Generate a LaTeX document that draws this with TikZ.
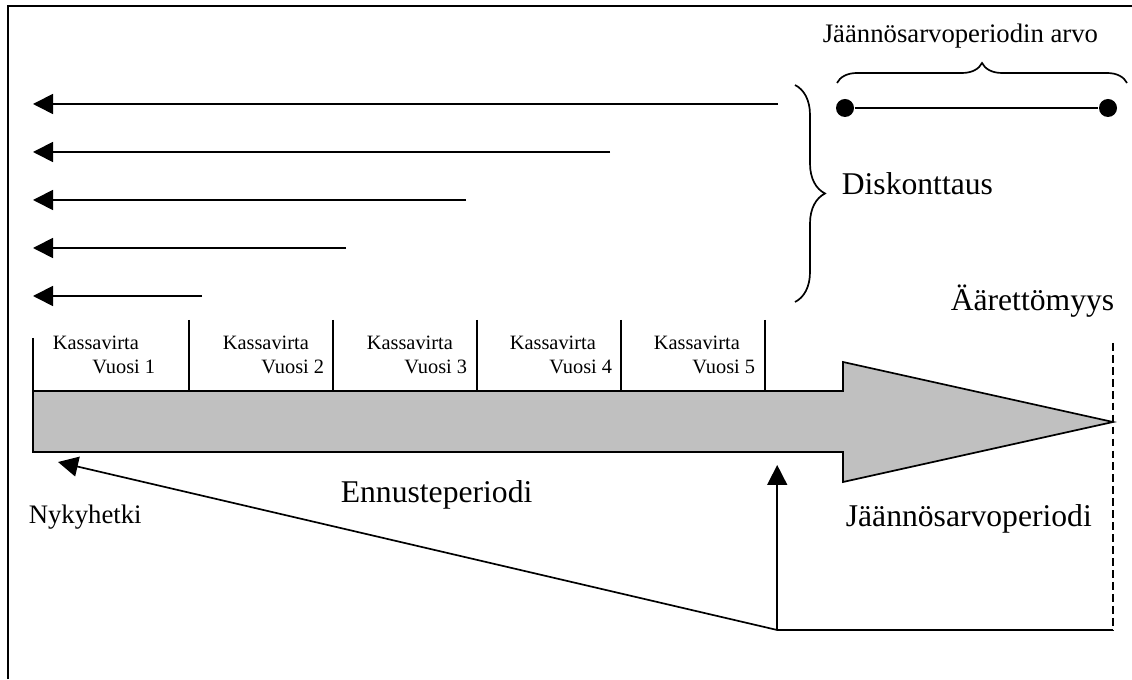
\documentclass[tikz,border=0pt]{standalone}
\usepackage{fontspec}
\setmainfont{Liberation Serif}
\usetikzlibrary{arrows.meta,decorations.pathreplacing}

\definecolor{bargray}{HTML}{c0c0c0}

\begin{document}
\begin{tikzpicture}
    \useasboundingbox (0, 0) rectangle (28.3, 16.975);
    \begin{scope}[line width=1.2pt,
        disc/.style={-{Triangle[length=0.5cm, width=0.5cm]}},
        cashtxt/.style={inner sep=0, font=\fontsize{14.5}{17}\selectfont},
        midtxt/.style={inner sep=0, font=\fontsize{19}{22}\selectfont},
        bigtxt/.style={inner sep=0, font=\fontsize{22.5}{26}\selectfont}]
        % frame
        \draw[line width=1.4pt] (0.2, 0) -- (0.2, 16.825) -- (28.3, 16.825);
        % discounting arrows
        \coordinate (t1) at (19.45, 14.375);
        \coordinate (t2) at (15.25, 13.175);
        \coordinate (t3) at (11.65, 11.975);
        \coordinate (t4) at (8.65, 10.775);
        \coordinate (t5) at (5.05, 9.575);
        \coordinate (h1) at (0.825, 14.375);
        \coordinate (h2) at (0.825, 13.175);
        \coordinate (h3) at (0.825, 11.975);
        \coordinate (h4) at (0.825, 10.775);
        \coordinate (h5) at (0.825, 9.575);
        \draw[disc] (t1) -- (h1);
        \draw[disc] (t2) -- (h2);
        \draw[disc] (t3) -- (h3);
        \draw[disc] (t4) -- (h4);
        \draw[disc] (t5) -- (h5);
        \draw[decorate, decoration={brace, amplitude=0.75cm}] (19.875, 14.85) -- (19.875, 9.425);
        \node[bigtxt, anchor=base west] (disk) at (21.025, 12.1) {Diskonttaus};
        % residual value
        \draw[decorate, decoration={brace, amplitude=0.5cm}] (20.925, 14.9) -- (28.175, 14.9);
        \node[midtxt, anchor=base west] (arvo) at (20.55, 15.9) {Jäännösarvoperiodin arvo};
        \node[fill, circle, minimum size=0.45cm, inner sep=0] (d1) at (21.125, 14.275) {};
        \node[fill, circle, minimum size=0.45cm, inner sep=0] (d2) at (27.7, 14.275) {};
        \draw (d1) -- (d2);
        \node[bigtxt, anchor=base east] (inf) at (27.875, 9.2) {Äärettömyys};
        % time bar
        \draw[fill=bargray] (0.825, 7.2) -- (21.075, 7.2) -- (21.075, 7.925) -- (27.825, 6.425)
            -- (21.075, 4.925) -- (21.075, 5.675) -- (0.825, 5.675) -- cycle;
        \draw (0.825, 8.525) -- (0.825, 7.2);
        \draw (4.725, 8.975) -- (4.725, 7.2);
        \draw (8.325, 8.975) -- (8.325, 7.2);
        \draw (11.925, 8.975) -- (11.925, 7.2);
        \draw (15.525, 8.975) -- (15.525, 7.2);
        \draw (19.125, 8.975) -- (19.125, 7.2);
        \node[cashtxt, anchor=base west] (k1) at (1.3, 8.225) {Kassavirta};
        \node[cashtxt, anchor=base west] (k2) at (5.55, 8.225) {Kassavirta};
        \node[cashtxt, anchor=base west] (k3) at (9.15, 8.225) {Kassavirta};
        \node[cashtxt, anchor=base west] (k4) at (12.725, 8.225) {Kassavirta};
        \node[cashtxt, anchor=base west] (k5) at (16.325, 8.225) {Kassavirta};
        \node[cashtxt, anchor=base east] (v1) at (3.9, 7.625) {Vuosi 1};
        \node[cashtxt, anchor=base east] (v2) at (8.125, 7.625) {Vuosi 2};
        \node[cashtxt, anchor=base east] (v3) at (11.7, 7.625) {Vuosi 3};
        \node[cashtxt, anchor=base east] (v4) at (15.325, 7.625) {Vuosi 4};
        \node[cashtxt, anchor=base east] (v5) at (18.9, 7.625) {Vuosi 5};
        % periods
        \coordinate (corner) at (19.43, 1.225);
        \coordinate (now) at (1.45, 5.425);
        \coordinate (split) at (19.43, 5.35);
        \coordinate (endtop) at (27.825, 8.4);
        \coordinate (endbot) at (27.825, 1.225);
        \draw[line width=0.9pt, dash pattern=on 5.5pt off 3pt] (endtop) -- (endbot);
        \draw[disc] (corner) -- (now);
        \draw[disc] (corner) -- (split);
        \draw (corner) -- (endbot);
        \node[bigtxt, anchor=base west] (ennuste) at (8.5, 4.4) {Ennusteperiodi};
        \node[midtxt, anchor=base west] (nyky) at (0.7, 3.9) {Nykyhetki};
        \node[bigtxt, anchor=base west] (jaannos) at (21.125, 3.825) {Jäännösarvoperiodi};
    \end{scope}
\end{tikzpicture}
\end{document}
